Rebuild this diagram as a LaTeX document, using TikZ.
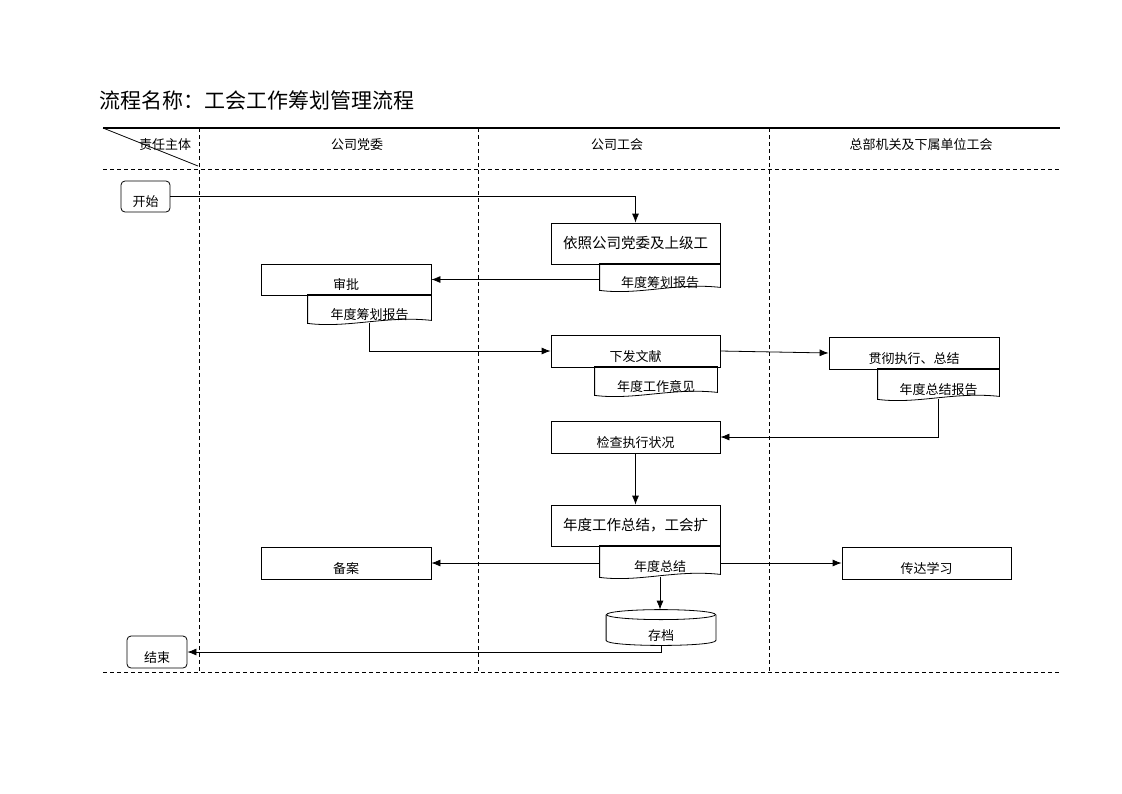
\documentclass[tikz,border=0pt]{standalone}
\usepackage{fontspec}
\newfontfamily\cjk{Noto Sans CJK SC}
\usetikzlibrary{arrows.meta,positioning}

% document symbol drawn round a named node
\newcommand{\docshape}[1]{%
  \draw (#1.north west) -- (#1.north east) -- ([yshift=3pt]#1.south east)
    .. controls ([xshift=-45pt,yshift=8pt]#1.south east) and ([xshift=40pt,yshift=-5pt]#1.south west) .. (#1.south west) -- cycle;}

\begin{document}
\begin{tikzpicture}[x=1pt,y=-1pt,>={Latex[length=9pt,width=7pt]},line width=0.8pt,
    every node/.style={font=\cjk\fontsize{13}{15}\selectfont},
    box/.style={draw,rectangle,minimum width=170pt,minimum height=32pt,inner sep=0pt,text height=20pt,text depth=0pt},
    bigbox/.style={draw,rectangle,minimum width=169pt,minimum height=41pt,inner sep=0pt,font=\cjk\fontsize{14.5}{16}\selectfont},
    doc/.style={rectangle,minimum width=121pt,minimum height=28pt,inner sep=0pt,text height=20pt,text depth=0pt},
    term/.style={draw,rectangle,rounded corners=4pt,minimum width=49pt,minimum height=31pt,inner sep=0pt,text height=20pt,text depth=0pt},
    lane/.style={dash pattern=on 4pt off 3pt},
    flow/.style={->}]
  \useasboundingbox (0,0) rectangle (1122,793);

  % title and header
  \node[anchor=west,font=\cjk\fontsize{21}{24}\selectfont] (title) at (96,100) {流程名称：工会工作筹划管理流程};
  \draw[line width=2.2pt] (103,128) -- (1060,128);
  \draw (103,128) -- (198,166);
  \node (hdrOwner) at (165,145) {责任主体};
  \node (hdrParty) at (357,145) {公司党委};
  \node (hdrUnion) at (617,145) {公司工会};
  \node (hdrBranch) at (921,145) {总部机关及下属单位工会};

  % lanes
  \draw[lane] (103,169) -- (1060,169);
  \draw[lane] (103,672) -- (1060,672);
  \draw[lane] (199,128) -- (199,672);
  \draw[lane] (478,128) -- (478,672);
  \draw[lane] (769,128) -- (769,672);

  % steps
  \node[term] (start) at (145.5,196.5) {开始};
  \node[bigbox] (plan) at (635.5,243.5) {依照公司党委及上级工};
  \node[doc,minimum width=120pt,minimum height=26pt] (planDoc) at (660,277) {年度筹划报告};
  \node[box,minimum height=31pt] (approve) at (346,279.5) {审批};
  \node[doc,minimum width=123pt] (approveDoc) at (369.5,309) {年度筹划报告};
  \node[box,minimum width=169pt] (issue) at (635.5,351) {下发文献};
  \node[doc,minimum width=122pt] (issueDoc) at (656,381) {年度工作意见};
  \node[box] (implement) at (914,353) {贯彻执行、总结};
  \node[doc,minimum height=30pt] (implDoc) at (938.5,384) {年度总结报告};
  \node[box,minimum width=169pt] (check) at (635.5,437) {检查执行状况};
  \node[bigbox] (summary) at (635.5,525.5) {年度工作总结，工会扩};
  \node[doc,minimum width=120pt,minimum height=31pt] (summaryDoc) at (660,561.5) {年度总结};
  \node[box] (file) at (346,563) {备案};
  \node[box,minimum width=169pt] (relay) at (926.5,563) {传达学习};
  \node[rectangle,minimum width=109pt,minimum height=35pt,inner sep=0pt,text height=26pt,text depth=0pt] (archive) at (661,627.5) {存档};
  \node[term,minimum width=60pt,minimum height=32pt] (end) at (157,652) {结束};

  \docshape{planDoc}
  \docshape{approveDoc}
  \docshape{issueDoc}
  \docshape{implDoc}
  \docshape{summaryDoc}

  % archive drum
  \draw ([yshift=-5pt]archive.north) ellipse [x radius=54.5pt, y radius=5pt];
  \draw ([yshift=-5pt]archive.north west) -- ([yshift=5pt]archive.south west)
    .. controls ([yshift=-1.7pt]archive.south west) and ([yshift=-1.7pt]archive.south east) .. ([yshift=5pt]archive.south east)
    -- ([yshift=-5pt]archive.north east);

  % flow
  \draw[flow] (start.east) -| (plan.north);
  \draw[flow] (planDoc.west |- approve.east) -- (approve.east);
  \draw[flow] (approveDoc.south) |- (issue.west);
  \draw[flow] (issue.east) -- (implement.west);
  \draw[flow] (implDoc.south) |- (check.east);
  \draw[flow] (check.south) -- (summary.north);
  \draw[flow] (summaryDoc.west |- file.east) -- (file.east);
  \draw[flow] (summaryDoc.east |- relay.west) -- (relay.west);
  \draw[flow] (summaryDoc.south) -- (summaryDoc.south |- archive.north);
  \draw[flow] (archive.south) |- (end.east);
\end{tikzpicture}
\end{document}
